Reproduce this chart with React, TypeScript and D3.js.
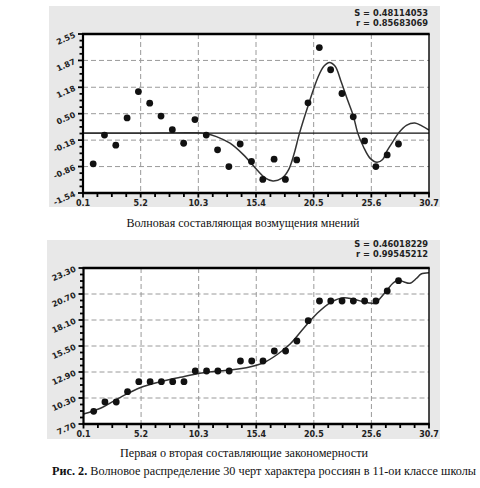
import React from "react";
import * as d3 from "d3";

// ---- data ----
const xTicks = [0.1, 5.2, 10.3, 15.4, 20.5, 25.6, 30.7];
const xTickLabels = ["0.1", "5.2", "10.3", "15.4", "20.5", "25.6", "30.7"];

const traitIndex = [1, 2, 3, 4, 5, 6, 7, 8, 9, 10, 11, 12, 13, 14, 15, 16, 17, 18, 19, 20, 21, 22, 23, 24, 25, 26, 27, 28];

// top chart: wave component
const waveValues = [-0.79, -0.05, -0.31, 0.39, 1.07, 0.77, 0.44, 0.09, -0.26, 0.35, -0.05, -0.43, -0.86, -0.28, -0.73, -1.19, -0.67, -1.19, -0.69, 0.78, 2.2, 1.63, 1.02, 0.42, -0.2, -0.86, -0.56, -0.28];
const waveCurveX = [0.1, 5.0, 10.0, 10.9, 11.9, 13.1, 14.3, 15.5, 16.2, 16.9, 17.7, 18.3, 18.75, 19.25, 20.0, 20.9, 21.4, 21.9, 22.4, 22.9, 23.5, 24.0, 24.4, 24.9, 25.5, 26.1, 26.6, 27.0, 27.5, 28.0, 28.7, 29.45, 30.1, 30.7];
const waveCurveY = [0, 0, 0.01, -0.01, -0.09, -0.26, -0.56, -0.95, -1.15, -1.23, -1.16, -0.93, -0.55, 0.0, 0.7, 1.45, 1.72, 1.82, 1.72, 1.35, 0.85, 0.45, 0.0, -0.35, -0.65, -0.75, -0.68, -0.45, -0.22, 0.0, 0.2, 0.26, 0.18, 0.08];
const waveYTicks = [-1.54, -0.86, -0.18, 0.5, 1.18, 1.87, 2.55];
const waveYTickLabels = ["-1.54", "-0.86", "-0.18", "0.50", "1.18", "1.87", "2.55"];
const waveStats = ["S = 0.48114053", "r = 0.85683069"];

// bottom chart: first and second components
const trendValues = [8.97, 9.9, 9.9, 10.93, 11.93, 11.93, 11.93, 11.93, 11.93, 13.0, 13.0, 13.0, 13.0, 14.0, 14.0, 14.0, 15.0, 15.0, 16.0, 18.03, 20.0, 20.0, 20.0, 20.0, 20.0, 20.0, 21.0, 22.03];
const trendCurveX = [0.1, 1.6, 3.37, 5.1, 6.9, 8.67, 10.4, 12.2, 13.1, 14.9, 16.05, 17.2, 18.4, 19.6, 20.8, 22.0, 23.15, 24.0, 25.3, 25.9, 26.4, 27.0, 27.5, 28.0, 28.5, 29.0, 29.6, 30.0, 30.7];
const trendCurveY = [8.7, 9.27, 10.37, 11.33, 11.93, 12.37, 12.77, 13.03, 13.1, 13.43, 13.83, 14.6, 15.7, 17.27, 18.77, 19.87, 20.33, 20.17, 19.83, 19.77, 20.3, 21.1, 21.77, 22.1, 21.9, 21.77, 22.27, 22.7, 22.83];
const trendYTicks = [7.7, 10.3, 12.9, 15.5, 18.1, 20.7, 23.3];
const trendYTickLabels = ["7.70", "10.30", "12.90", "15.50", "18.10", "20.70", "23.30"];
const trendStats = ["S = 0.46018229", "r = 0.99545212"];

const caption1 = "Волновая составляющая возмущения мнений";
const caption2 = "Первая о вторая составляющие закономерности";
const figLabel = "Рис. 2.";
const figText = " Волновое распределение 30 черт характера россиян в 11-ои классе школы";

const tickFont = "'DejaVu Sans', sans-serif";
const serifFont = "'Liberation Serif', 'Times New Roman', Times, serif";

type PanelProps = {
  id: string;
  bg: [number, number, number, number];
  plot: [number, number, number, number];
  yTicks: number[];
  yLabels: string[];
  values: number[];
  curveX: number[];
  curveY: number[];
  stats: string[];
  statsY: number;
  zeroLine?: boolean;
};

function Panel(p: PanelProps) {
  const [bx0, by0, bx1, by1] = p.bg;
  const [px0, py0, px1, py1] = p.plot;
  const x = d3.scaleLinear().domain([xTicks[0], xTicks[xTicks.length - 1]]).range([px0, px1]);
  const y = d3.scaleLinear().domain([p.yTicks[0], p.yTicks[p.yTicks.length - 1]]).range([py1, py0]);

  const minorX: number[] = [];
  for (let i = 0; i < xTicks.length - 1; i++) {
    const s = (xTicks[i + 1] - xTicks[i]) / 4;
    for (let k = 1; k < 4; k++) minorX.push(xTicks[i] + k * s);
  }
  const minorY: number[] = [];
  for (let i = 0; i < p.yTicks.length - 1; i++) {
    const s = (p.yTicks[i + 1] - p.yTicks[i]) / 4;
    for (let k = 1; k < 4; k++) minorY.push(p.yTicks[i] + k * s);
  }

  const line = d3
    .line<number>()
    .x((_, i) => x(p.curveX[i]))
    .y((d) => y(d))
    .curve(d3.curveCatmullRom.alpha(0.5));
  const path = line(p.curveY) || "";

  return (
    <g>
      <rect x={bx0} y={by0} width={bx1 - bx0} height={by1 - by0} fill="#e8e8e8" />
      <rect x={px0} y={py0} width={px1 - px0} height={py1 - py0} fill="#ffffff" />
      <defs>
        <clipPath id={p.id}>
          <rect x={px0} y={py0} width={px1 - px0} height={py1 - py0} />
        </clipPath>
      </defs>
      {xTicks.slice(1, -1).map((t) => (
        <line key={"gx" + t} x1={x(t)} x2={x(t)} y1={py0} y2={py1} stroke="#9a9a9a" strokeWidth={1} strokeDasharray="5,3" />
      ))}
      {p.yTicks.slice(1, -1).map((t) => (
        <line key={"gy" + t} x1={px0} x2={px1} y1={y(t)} y2={y(t)} stroke="#9a9a9a" strokeWidth={1} strokeDasharray="5,3" />
      ))}
      {p.zeroLine && <line x1={px0} x2={px1} y1={y(0)} y2={y(0)} stroke="#111" strokeWidth={1.3} />}
      <path d={path} fill="none" stroke="#333" strokeWidth={1.5} clipPath={`url(#${p.id})`} />
      {p.values.map((v, i) => (
        <circle key={"pt" + i} cx={x(traitIndex[i])} cy={y(v)} r={3.4} fill="#111" />
      ))}
      {/* frame */}
      <line x1={px0 - 1} x2={px1 + 0.7} y1={py0} y2={py0} stroke="#000" strokeWidth={2.4} />
      <line x1={px1} x2={px1} y1={py0} y2={py1} stroke="#000" strokeWidth={1.4} />
      <line x1={px0 - 1} x2={px1 + 0.7} y1={py1} y2={py1} stroke="#000" strokeWidth={2.4} />
      <line x1={px0} x2={px0} y1={py0} y2={py1} stroke="#000" strokeWidth={2.2} />
      {/* ticks */}
      {xTicks.map((t) => (
        <line key={"tx" + t} x1={x(t)} x2={x(t)} y1={py1} y2={py1 + 4.5} stroke="#000" strokeWidth={1.8} />
      ))}
      {minorX.map((t) => (
        <line key={"mx" + t} x1={x(t)} x2={x(t)} y1={py1} y2={py1 + 4} stroke="#000" strokeWidth={1.8} />
      ))}
      {p.yTicks.map((t) => (
        <line key={"ty" + t} x1={px0 - 5} x2={px0} y1={y(t)} y2={y(t)} stroke="#000" strokeWidth={1.8} />
      ))}
      {minorY.map((t) => (
        <line key={"my" + t} x1={px0 - 3.5} x2={px0} y1={y(t)} y2={y(t)} stroke="#000" strokeWidth={1.8} />
      ))}
      {/* labels */}
      {xTicks.map((t, i) => (
        <text key={"lx" + t} x={x(t)} y={py1 + 13} textAnchor="middle" fontFamily={tickFont} fontWeight="bold" fontSize={8} fill="#222">
          {xTickLabels[i]}
        </text>
      ))}
      {p.yTicks.map((t, i) => (
        <text
          key={"ly" + t}
          transform={`translate(${px0 - 7},${y(t) + 3}) rotate(-24)`}
          textAnchor="end"
          fontFamily={tickFont}
          fontWeight="bold"
          fontSize={8}
          fill="#222"
        >
          {p.yLabels[i]}
        </text>
      ))}
      {p.stats.map((s, i) => (
        <text key={"st" + i} x={px1 - 1} y={p.statsY + i * 9.5} textAnchor="end" fontFamily={tickFont} fontWeight="bold" fontSize={8.3} fill="#222">
          {s}
        </text>
      ))}
    </g>
  );
}

export default function App() {
  return (
    <svg width={480} height={488} style={{ position: "absolute", left: 0, top: 0, background: "#fff" }}>
      <rect x={0} y={0} width={480} height={488} fill="#fff" />
      <Panel
        id="clipTop"
        bg={[49, 6, 440, 207]}
        plot={[83, 34, 429, 193]}
        yTicks={waveYTicks}
        yLabels={waveYTickLabels}
        values={waveValues}
        curveX={waveCurveX}
        curveY={waveCurveY}
        stats={waveStats}
        statsY={16}
        zeroLine
      />
      <text x={243} y={227} textAnchor="middle" fontFamily={serifFont} fontSize={12.5} fill="#111" textLength={233} lengthAdjust="spacingAndGlyphs">
        {caption1}
      </text>
      <Panel
        id="clipBot"
        bg={[47, 240, 440, 439]}
        plot={[83.5, 268, 429, 424]}
        yTicks={trendYTicks}
        yLabels={trendYTickLabels}
        values={trendValues}
        curveX={trendCurveX}
        curveY={trendCurveY}
        stats={trendStats}
        statsY={247}
      />
      <text x={244} y={457} textAnchor="middle" fontFamily={serifFont} fontSize={12.5} fill="#111" textLength={248} lengthAdjust="spacingAndGlyphs">
        {caption2}
      </text>
      <text x={264} y={475} textAnchor="middle" fontFamily={serifFont} fontSize={12.2} fill="#111" textLength={424} lengthAdjust="spacingAndGlyphs">
        <tspan fontWeight="bold">{figLabel}</tspan>
        {figText}
      </text>
    </svg>
  );
}
